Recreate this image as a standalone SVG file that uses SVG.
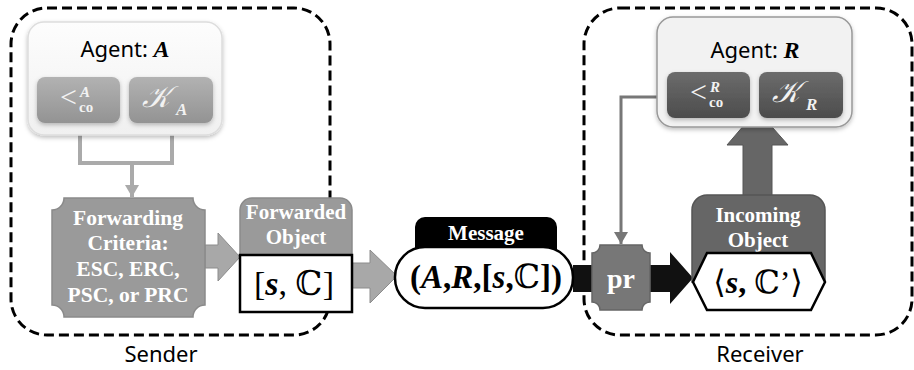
<svg xmlns="http://www.w3.org/2000/svg" width="914" height="370" viewBox="0 0 914 370">
<style>
.dash{fill:none;stroke:#000;stroke-width:3;stroke-dasharray:10 5}
.lbl{font-family:"Noto Sans","Open Sans",sans-serif;font-size:22px;fill:#000;text-anchor:middle}
.wt{font-family:"Liberation Serif","DejaVu Serif",serif;font-weight:bold;fill:#fff;text-anchor:middle}
.math{font-family:"Liberation Serif","DejaVu Serif",serif;fill:#000;text-anchor:middle}
.b{font-weight:bold}
.bi{font-weight:bold;font-style:italic}
.sub{font-family:"Liberation Serif","DejaVu Serif",serif;fill:#f2f2f2}
.garrow{fill:#a8a8a8;stroke:#8c8c8c;stroke-width:1}
</style>
<defs>
<linearGradient id="gA" x1="0" y1="0" x2="0" y2="1"><stop offset="0" stop-color="#b2b2b2"/><stop offset="1" stop-color="#939393"/></linearGradient>
<linearGradient id="gR" x1="0" y1="0" x2="0" y2="1"><stop offset="0" stop-color="#6c6c6c"/><stop offset="1" stop-color="#4c4c4c"/></linearGradient>
<linearGradient id="gBox" x1="0" y1="0" x2="0" y2="1"><stop offset="0" stop-color="#fdfdfd"/><stop offset="1" stop-color="#f0f0f0"/></linearGradient>
<filter id="sh" x="-10%" y="-10%" width="120%" height="130%"><feDropShadow dx="0" dy="2" stdDeviation="2" flood-color="#000" flood-opacity="0.25"/></filter>
<marker id="ahL" markerWidth="14" markerHeight="14" refX="12" refY="7" orient="auto" markerUnits="userSpaceOnUse"><path d="M0,0 L12,7 L0,14 Z" fill="#aaaaaa"/></marker>
<marker id="ahD" markerWidth="14" markerHeight="14" refX="12" refY="7" orient="auto" markerUnits="userSpaceOnUse"><path d="M0,0 L12,7 L0,14 Z" fill="#777777"/></marker>
</defs>

<g id="sender">
<rect class="dash" x="11" y="8" width="319" height="327" rx="36"/>
<text class="lbl" x="161" y="362">Sender</text>
</g>
<g id="receiver">
<rect class="dash" x="584" y="8" width="328" height="327" rx="36"/>
<text class="lbl" x="760" y="362">Receiver</text>
</g>

<g id="connectors">
<polyline points="80,123 80,163 172,163 172,123" fill="none" stroke="#aaaaaa" stroke-width="4"/>
<line x1="132" y1="163" x2="132" y2="197" stroke="#aaaaaa" stroke-width="4" marker-end="url(#ahL)"/>
<polyline points="667,97 621,97 621,244" fill="none" stroke="#777777" stroke-width="3" marker-end="url(#ahD)"/>
<path class="garrow" d="M205,245 H218 V233 L240,257 L218,281 V268 H205 Z"/>
<path class="garrow" d="M352,263 H370 V250 L397,276 L370,303 V288 H352 Z"/>
<path d="M573,265 H670 V252 L693,278 L670,304 V292 H573 Z" fill="#111"/>
<path d="M743,196 V145 H727 L757,110 L788,145 H772 V196 Z" fill="#666666" stroke="#555555" stroke-width="1"/>
</g>

<g id="agentA">
<rect x="28" y="22" width="194" height="113" rx="16" fill="url(#gBox)" stroke="#dddddd" stroke-width="1.5" filter="url(#sh)"/>
<text x="125" y="57" font-family="Noto Sans,Open Sans,sans-serif" font-size="22" text-anchor="middle">Agent: <tspan font-family="Liberation Serif,DejaVu Serif,serif" font-weight="bold" font-style="italic" font-size="24">A</tspan></text>
<g id="coA">
<rect x="37" y="77" width="83" height="46" rx="8" fill="url(#gA)" filter="url(#sh)"/>
<text class="sub" x="60" y="107" font-size="30">&lt;</text>
<text class="sub bi" x="80" y="97" font-size="15">A</text>
<text class="sub b" x="79" y="112" font-size="15">co</text>
</g>
<g id="KA">
<rect x="129" y="77" width="84" height="46" rx="8" fill="url(#gA)" filter="url(#sh)"/>
<text class="sub" x="142" y="107" font-size="30" font-style="italic">𝒦</text>
<text class="sub bi" x="176" y="115" font-size="17">A</text>
</g>
</g>

<g id="agentR">
<rect x="657" y="17" width="195" height="110" rx="16" fill="#f2f2f2" stroke="#999999" stroke-width="1.5" filter="url(#sh)"/>
<text x="755" y="58" font-family="Noto Sans,Open Sans,sans-serif" font-size="22" text-anchor="middle">Agent: <tspan font-family="Liberation Serif,DejaVu Serif,serif" font-weight="bold" font-style="italic" font-size="24">R</tspan></text>
<g id="coR">
<rect x="667" y="72" width="83" height="46" rx="8" fill="url(#gR)" filter="url(#sh)"/>
<text class="sub" x="690" y="102" font-size="30">&lt;</text>
<text class="sub bi" x="710" y="92" font-size="15">R</text>
<text class="sub b" x="709" y="107" font-size="15">co</text>
</g>
<g id="KR">
<rect x="759" y="72" width="84" height="46" rx="8" fill="url(#gR)" filter="url(#sh)"/>
<text class="sub" x="772" y="102" font-size="30" font-style="italic">𝒦</text>
<text class="sub bi" x="806" y="110" font-size="17">R</text>
</g>
</g>

<g id="criteria">
<path d="M64,198 H193 A12,12 0 0 0 205,210 V305 A12,12 0 0 0 193,317 H64 A12,12 0 0 0 52,305 V210 A12,12 0 0 0 64,198 Z" fill="#9a9a9a" stroke="#8a8a8a" stroke-width="1.5"/>
<text class="wt" x="128" y="225" font-size="21.5">Forwarding</text>
<text class="wt" x="128" y="250" font-size="21.5">Criteria:</text>
<text class="wt" x="128" y="276" font-size="21.5">ESC, ERC,</text>
<text class="wt" x="128" y="302" font-size="21.5">PSC, or PRC</text>
</g>

<g id="forwarded">
<path d="M240,300 V210 A12,12 0 0 1 252,198 H340 A12,12 0 0 1 352,210 V300 Z" fill="#9a9a9a" stroke="#8a8a8a" stroke-width="1.5"/>
<text class="wt" x="296" y="219" font-size="21">Forwarded</text>
<text class="wt" x="296" y="244" font-size="21">Object</text>
<rect x="240" y="255" width="112" height="57" fill="#fff" stroke="#000" stroke-width="2.5"/>
<text class="math" x="294" y="295" font-size="34">[<tspan class="bi">s</tspan>, ℂ]</text>
</g>

<g id="message">
<path d="M415,256 V227 A10,10 0 0 1 425,217 H547 A10,10 0 0 1 557,227 V256 Z" fill="#000"/>
<text class="wt" x="486" y="240" font-size="21">Message</text>
<rect x="395" y="247" width="178" height="61" rx="30" fill="#fff" stroke="#000" stroke-width="2.5"/>
<text class="math b" x="486" y="288" font-size="33">(<tspan class="bi">A</tspan>,<tspan class="bi">R</tspan>,[<tspan class="bi">s</tspan>,<tspan style="font-weight:normal">ℂ</tspan>])</text>
</g>

<g id="pr">
<path d="M600,245 H642 A8,8 0 0 0 650,253 V302 A8,8 0 0 0 642,310 H600 A8,8 0 0 0 592,302 V253 A8,8 0 0 0 600,245 Z" fill="#777777" stroke="#666666" stroke-width="1.5"/>
<text class="wt" x="621" y="288" font-size="28">pr</text>
</g>

<g id="incoming">
<path d="M692,282 V210 A15,15 0 0 1 707,195 H810 A15,15 0 0 1 825,210 V282 Z" fill="#666666" stroke="#555555" stroke-width="1.5"/>
<text class="wt" x="758" y="222" font-size="21">Incoming</text>
<text class="wt" x="758" y="247" font-size="21">Object</text>
<polygon points="693,282 707,253 811,253 825,282 811,310 707,310" fill="#fff" stroke="#000" stroke-width="2.5"/>
<text class="math" x="758" y="293" font-size="32">⟨<tspan class="bi">s</tspan><tspan class="b">,</tspan> ℂ’⟩</text>
</g>
</svg>
